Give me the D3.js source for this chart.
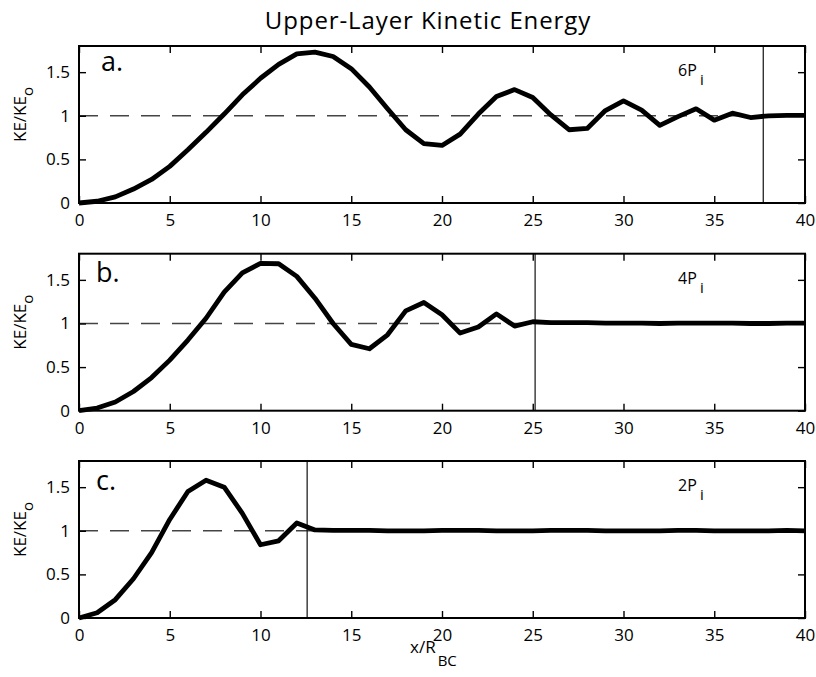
<!DOCTYPE html>
<html>
<head>
<meta charset="utf-8">
<script src="https://cdn.jsdelivr.net/npm/d3@7"></script>
<style>
  body { margin: 0; background: #fff; }
  svg { display: block; }
  text { font-family: "Open Sans", sans-serif; fill: #000; }
</style>
</head>
<body>
<svg id="chart" width="816" height="677"></svg>
<script>
// Downstream distance x/R_BC
const distance = [0, 1, 2, 3, 4, 5, 6, 7, 8, 9, 10, 11, 12, 13, 14, 15, 16, 17, 18, 19, 20,
                  21, 22, 23, 24, 25, 26, 27, 28, 29, 30, 31, 32, 33, 34, 35, 36, 37, 38, 39, 40];

// Normalised upper-layer kinetic energy KE/KE_o for each forcing length
const keSixPeriods = [0, 0.02, 0.07, 0.16, 0.27, 0.42, 0.61, 0.81, 1.02, 1.24, 1.43, 1.59, 1.71, 1.73,
                      1.68, 1.54, 1.33, 1.08, 0.84, 0.68, 0.66, 0.79, 1.02, 1.22, 1.30, 1.21, 1.01,
                      0.84, 0.855, 1.06, 1.17, 1.065, 0.89, 0.99, 1.08, 0.95, 1.03, 0.98, 1.0, 1.005, 1.005];
const keFourPeriods = [0, 0.03, 0.10, 0.22, 0.38, 0.58, 0.81, 1.06, 1.36, 1.58, 1.69, 1.685, 1.54, 1.29,
                       1.0, 0.76, 0.71, 0.87, 1.145, 1.24, 1.10, 0.89, 0.96, 1.11, 0.97, 1.02, 1.01,
                       1.01, 1.01, 1.005, 1.005, 1.005, 1.0, 1.005, 1.005, 1.005, 1.005, 1.0, 1.0, 1.005, 1.005];
const keTwoPeriods = [0, 0.06, 0.21, 0.45, 0.75, 1.13, 1.45, 1.58, 1.50, 1.20, 0.84, 0.885, 1.09, 1.01,
                      1.005, 1.005, 1.005, 1.0, 1.0, 1.0, 1.005, 1.005, 1.005, 1.0, 1.0, 1.0, 1.005,
                      1.005, 1.005, 1.0, 1.0, 1.0, 1.0, 1.005, 1.005, 1.0, 1.0, 1.0, 1.0, 1.005, 1.0];

const panelLetters = ["a.", "b.", "c."];
const periodLabels = ["6P", "4P", "2P"];
const periodSubscript = "i";
const periodPositions = [37.70, 25.13, 12.57];   // 6, 4 and 2 forcing periods (P_i = 2π)
const referenceLevel = 1;

const xTicks = [0, 5, 10, 15, 20, 25, 30, 35, 40];
const yTicks = [0, 0.5, 1, 1.5];
const yTickLabels = ["0", "0.5", "1", "1.5"];

const titleText = "Upper-Layer Kinetic Energy";
const yLabelMain = "KE/KE";
const yLabelSub = "o";
const xLabelMain = "x/R";
const xLabelSub = "BC";

const series = [keSixPeriods, keFourPeriods, keTwoPeriods];

// ---- layout ----
const svg = d3.select("#chart");
svg.append("rect").attr("width", 816).attr("height", 677).attr("fill", "#fff");

const left = 79, right = 805;
const panelTops = [46, 253.7, 461];
const panelHeight = 157;
const tickLen = 7;

const x = d3.scaleLinear().domain([0, 40]).range([left, right]);

svg.append("text")
  .attr("x", 428).attr("y", 29)
  .attr("text-anchor", "middle")
  .attr("font-size", 24)
  .attr("letter-spacing", 0.9)
  .text(titleText);

series.forEach((values, i) => {
  const top = panelTops[i];
  const bottom = top + panelHeight;
  const y = d3.scaleLinear().domain([0, 1.8]).range([bottom, top]);
  const g = svg.append("g");

  // dashed reference level
  g.append("line")
    .attr("x1", x(0)).attr("x2", x(40))
    .attr("y1", y(referenceLevel)).attr("y2", y(referenceLevel))
    .attr("stroke", "#444").attr("stroke-width", 1.5)
    .attr("stroke-dasharray", "19,12");

  // vertical marker at the forcing-length position
  g.append("line")
    .attr("x1", x(periodPositions[i])).attr("x2", x(periodPositions[i]))
    .attr("y1", top).attr("y2", bottom)
    .attr("stroke", "#111").attr("stroke-width", 1.2);

  // kinetic-energy curve
  const line = d3.line().x((d, k) => x(distance[k])).y(d => y(d));
  g.append("path")
    .datum(values)
    .attr("d", line)
    .attr("fill", "none")
    .attr("stroke", "#000")
    .attr("stroke-width", 4.8)
    .attr("stroke-linejoin", "round");

  // axes with inward ticks on all four sides
  const bottomAxis = d3.axisBottom(x).tickValues(xTicks).tickSize(-tickLen).tickPadding(11)
    .tickFormat(d3.format("d"));
  const topAxis = d3.axisTop(x).tickValues(xTicks).tickSize(-tickLen).tickFormat("");
  const leftAxis = d3.axisLeft(y).tickValues(yTicks).tickSize(-tickLen).tickPadding(9)
    .tickFormat((d, k) => yTickLabels[k]);
  const rightAxis = d3.axisRight(y).tickValues(yTicks).tickSize(-tickLen).tickFormat("");

  const styleAxis = sel => {
    sel.select(".domain").remove();
    sel.selectAll(".tick line").attr("stroke", "#000").attr("stroke-width", 1.4);
    sel.selectAll(".tick text").attr("font-family", "Open Sans, sans-serif")
      .attr("font-size", 17).attr("fill", "#000");
  };
  g.append("g").attr("transform", `translate(0,${bottom})`).call(bottomAxis).call(styleAxis);
  g.append("g").attr("transform", `translate(0,${top})`).call(topAxis).call(styleAxis);
  g.append("g").attr("transform", `translate(${left},0)`).call(leftAxis).call(styleAxis);
  g.append("g").attr("transform", `translate(${right},0)`).call(rightAxis).call(styleAxis);

  // frame
  g.append("rect")
    .attr("x", left).attr("y", top)
    .attr("width", right - left).attr("height", panelHeight)
    .attr("fill", "none").attr("stroke", "#000").attr("stroke-width", 2);

  // panel letter
  g.append("text")
    .attr("x", i === 0 ? 101 : 96).attr("y", i === 0 ? top + 25 : top + 28.5)
    .attr("font-size", 27)
    .text(panelLetters[i]);

  // period label
  g.append("text")
    .attr("x", 678).attr("y", top + 30)
    .attr("font-size", 16)
    .text(periodLabels[i]);
  g.append("text")
    .attr("x", 700).attr("y", top + 39)
    .attr("font-size", 15)
    .text(periodSubscript);

  // y-axis label
  const yl = g.append("text")
    .attr("transform", `translate(26,${top + panelHeight / 2 - 10}) rotate(-90)`)
    .attr("text-anchor", "middle")
    .attr("font-size", 17);
  yl.append("tspan").text(yLabelMain);
  yl.append("tspan").attr("dy", 7).attr("font-size", 15).text(yLabelSub);
});

// x-axis label
const xl = svg.append("text").attr("x", 410).attr("y", 653).attr("font-size", 17);
xl.append("tspan").text(xLabelMain);
xl.append("tspan").attr("dx", 2).attr("dy", 13).attr("font-size", 15).text(xLabelSub);
</script>
</body>
</html>
